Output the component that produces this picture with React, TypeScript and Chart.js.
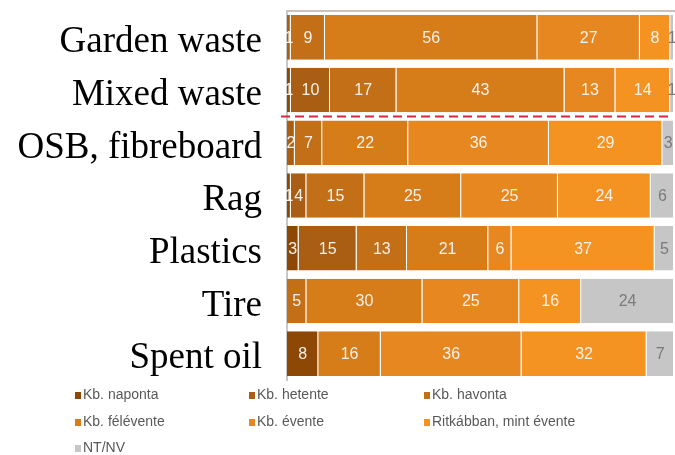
import React, { useEffect, useRef } from "react";
import { Chart, registerables } from "chart.js";

Chart.register(...registerables);

// Waste types (rows, top to bottom)
const categories = [
  "Garden waste",
  "Mixed waste",
  "OSB, fibreboard",
  "Rag",
  "Plastics",
  "Tire",
  "Spent oil",
];

// Frequency groups (stack order, left to right)
const seriesNames = [
  "Kb. naponta",
  "Kb. hetente",
  "Kb. havonta",
  "Kb. félévente",
  "Kb. évente",
  "Ritkábban, mint évente",
  "NT/NV",
];

// Answer shares per waste type, one array per frequency group
const naponta = [0, 1, 0, 1, 3, 0, 8];
const hetente = [1, 10, 2, 4, 15, 0, 0];
const havonta = [9, 17, 7, 15, 13, 5, 0];
const felevente = [56, 43, 22, 25, 21, 30, 16];
const evente = [27, 13, 36, 25, 6, 25, 36];
const ritkabban = [8, 14, 29, 24, 37, 16, 32];
const ntnv = [1, 1, 3, 6, 5, 24, 7];

const seriesValues = [naponta, hetente, havonta, felevente, evente, ritkabban, ntnv];

const seriesColors = [
  "#8d4806",
  "#a95e13",
  "#c26f18",
  "#d67d1a",
  "#e6881f",
  "#f59322",
  "#c6c6c6",
];

// Row index after which the red separator is drawn
const separatorAfter = 1;

// Each bar is shown as a 100% stack
const rowTotals = categories.map((_, r) =>
  seriesValues.reduce((s, arr) => s + arr[r], 0)
);

const valueLabels = {
  id: "valueLabels",
  afterDatasetsDraw(chart: Chart) {
    const ctx = chart.ctx;
    ctx.save();
    ctx.font = "16px 'Liberation Sans', Arial, sans-serif";
    ctx.textAlign = "center";
    ctx.textBaseline = "middle";
    chart.data.datasets.forEach((ds: any, i: number) => {
      const meta = chart.getDatasetMeta(i);
      meta.data.forEach((el: any, j: number) => {
        const v = seriesValues[i][j];
        if (!v) return;
        ctx.fillStyle = i === seriesValues.length - 1 ? "#7a7a7a" : "#f6f1ea";
        ctx.fillText(String(v), (el.x + el.base) / 2, el.y + 1);
      });
    });
    ctx.restore();
  },
};

const separatorLine = {
  id: "separatorLine",
  afterDatasetsDraw(chart: Chart) {
    const ctx = chart.ctx;
    const y = chart.scales.y as any;
    const yy =
      (y.getPixelForValue(separatorAfter) +
        y.getPixelForValue(separatorAfter + 1)) /
      2;
    ctx.save();
    ctx.strokeStyle = "#d8263c";
    ctx.lineWidth = 2;
    ctx.setLineDash([9, 5]);
    ctx.beginPath();
    ctx.moveTo(chart.chartArea.left - 6, yy);
    ctx.lineTo(chart.chartArea.right - 1, yy);
    ctx.stroke();
    ctx.restore();
  },
};

const topRule = {
  id: "topRule",
  beforeDatasetsDraw(chart: Chart) {
    const ctx = chart.ctx;
    const a = chart.chartArea;
    ctx.save();
    ctx.strokeStyle = "#c4c4c4";
    ctx.lineWidth = 2;
    ctx.beginPath();
    ctx.moveTo(a.left, a.top);
    ctx.lineTo(chart.width, a.top);
    ctx.stroke();
    ctx.restore();
  },
};

const gridLegend = {
  id: "gridLegend",
  afterDraw(chart: Chart) {
    const ctx = chart.ctx;
    ctx.save();
    ctx.font = "14px 'Liberation Sans', Arial, sans-serif";
    ctx.textBaseline = "middle";
    ctx.textAlign = "left";
    const colX = [75, 249, 424];
    const rowY = [395, 422, 448];
    chart.data.datasets.forEach((ds: any, i: number) => {
      const x = colX[i % 3];
      const y = rowY[Math.floor(i / 3)];
      ctx.fillStyle = ds.backgroundColor;
      ctx.fillRect(x, y - 3, 6, 7);
      ctx.fillStyle = "#595959";
      ctx.fillText(ds.label, x + 8, y);
    });
    ctx.restore();
  },
};

export default function App() {
  const ref = useRef<HTMLCanvasElement>(null);

  useEffect(() => {
    if (!ref.current) return;
    const chart = new Chart(ref.current, {
      type: "bar",
      data: {
        labels: categories,
        datasets: seriesNames.map((name, i) => ({
          label: name,
          data: seriesValues[i].map((v, r) => (v / rowTotals[r]) * 100),
          backgroundColor: seriesColors[i],
          borderColor: "rgba(255,255,255,0.3)",
          borderWidth: { top: 0, bottom: 0, left: 0, right: 1 },
          borderSkipped: false,
          categoryPercentage: 1,
          barPercentage: 0.845,
        })),
      },
      options: {
        indexAxis: "y",
        animation: false,
        responsive: false,
        devicePixelRatio: 1,
        layout: { padding: { top: 11, bottom: 75, right: 1, left: 0 } },
        plugins: {
          legend: { display: false },
          tooltip: { enabled: false },
          title: { display: false },
        },
        scales: {
          x: {
            stacked: true,
            min: 0,
            max: 100,
            display: false,
          },
          y: {
            stacked: true,
            grid: { display: false, drawTicks: false },
            border: { display: true, color: "#c8c8c8", width: 2 },
            ticks: {
              color: "#000000",
              padding: 25,
              labelOffset: 5,
              font: { family: "'Liberation Serif', 'Times New Roman', serif", size: 37 },
            },
            afterFit(scale: any) {
              scale.width = 287;
              scale.paddingTop = 0;
              scale.paddingBottom = 0;
            },
          },
        },
      },
      plugins: [topRule, valueLabels, separatorLine, gridLegend],
    });
    return () => chart.destroy();
  }, []);

  return (
    <div style={{ position: "absolute", left: 0, top: 0, width: 675, height: 455, background: "#fff" }}>
      <canvas ref={ref} width={675} height={455} />
    </div>
  );
}
